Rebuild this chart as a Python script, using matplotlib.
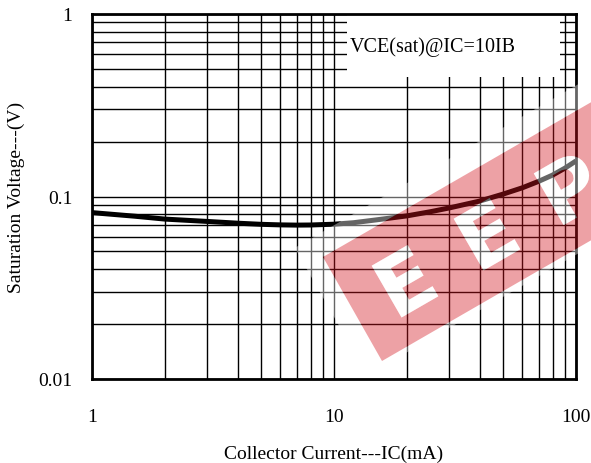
import numpy as np
import matplotlib
matplotlib.use("Agg")
import matplotlib.pyplot as plt
from matplotlib.ticker import FixedLocator, FixedFormatter, NullFormatter, LogLocator
from matplotlib.patches import PathPatch, Rectangle
from matplotlib.path import Path
from matplotlib.textpath import TextPath
from matplotlib.font_manager import FontProperties
from matplotlib.transforms import Affine2D, IdentityTransform

# ---- data ----
ic_ma = [1, 1.5, 2, 3, 4, 5, 6, 7, 8, 10, 12, 15, 20, 25, 30, 40, 50, 60, 70, 80, 90, 100]
vce_sat = [0.0816, 0.0780, 0.0752, 0.0730, 0.0714, 0.0704, 0.0699, 0.0697, 0.0698, 0.0705,
           0.0718, 0.0745, 0.0783, 0.0825, 0.0866, 0.0944, 0.1031, 0.1116, 0.1210, 0.1310,
           0.1430, 0.1566]
x_ticks = [1, 10, 100]
x_ticklabels = ["1", "10", "100"]
y_ticks = [0.01, 0.1, 1]
y_ticklabels = ["0.01", "0.1", "1"]
annotation = "VCE(sat)@IC=10IB"
x_label = "Collector Current---IC(mA)"
y_label = "Saturation Voltage---(V)"
watermark = "EEP"

plt.rcParams['font.family'] = ['Liberation Serif', 'DejaVu Serif']

W, H = 591, 464
fig = plt.figure(figsize=(W / 100, H / 100), dpi=100)
L, R, T, B = 92, 576, 15, 380
ax = fig.add_axes([L / W, 1 - B / H, (R - L) / W, (B - T) / H])
ax.set_xscale('log')
ax.set_yscale('log')
ax.set_xlim(1, 100)
ax.set_ylim(0.01, 1)

ax.plot(ic_ma, vce_sat, color='black', lw=3.6, solid_capstyle='butt', zorder=2)

ax.xaxis.set_major_locator(FixedLocator(x_ticks))
ax.xaxis.set_major_formatter(FixedFormatter(x_ticklabels))
ax.yaxis.set_major_locator(FixedLocator(y_ticks))
ax.yaxis.set_major_formatter(FixedFormatter(y_ticklabels))
ax.xaxis.set_minor_locator(LogLocator(base=10, subs=np.arange(2, 10)))
ax.yaxis.set_minor_locator(LogLocator(base=10, subs=np.arange(2, 10)))
ax.xaxis.set_minor_formatter(NullFormatter())
ax.yaxis.set_minor_formatter(NullFormatter())
ax.grid(which='both', color='black', lw=1.0)
ax.tick_params(which='both', length=0)
ax.tick_params(axis='x', pad=21, labelsize=14)
ax.tick_params(axis='y', pad=14, labelsize=14)
for s in ax.spines.values():
    s.set_linewidth(2)
    s.set_color('black')

ax.set_xlabel(x_label, fontsize=14, labelpad=14)
ax.set_ylabel(y_label, fontsize=14, labelpad=10)

# annotation box
ax.add_patch(Rectangle(((347 - L) / (R - L), (B - 78) / (B - T)),
                       (560 - 347) / (R - L), (78 - T) / (B - T) - 0.004,
                       transform=ax.transAxes, facecolor='white', edgecolor='none', zorder=2.5))
ax.text((350 - L) / (R - L), (B - 47) / (B - T), annotation, transform=ax.transAxes,
        fontsize=14.5, ha='left', va='center', zorder=3)

# ---- watermark (pixel coords, image y-down) ----
def disp(pts):
    return [(x, H - y) for x, y in pts]

ang = np.deg2rad(30)
u = np.array([np.cos(ang), -np.sin(ang)])
A = np.array([323.0, 258.0])
Bc = np.array([382.0, 362.0])
n = (A - Bc) / np.linalg.norm(A - Bc)
Lb = 330
band = [A, Bc, Bc + Lb * u, A + Lb * u]

# halo
hA = A + 22 * n - 20 * u
hB = Bc - 5 * n - 20 * u
halo = [hA, hB, hB + (Lb + 40) * u, hA + (Lb + 40) * u]
halo_d = disp(halo)
band_d = disp(band)

def ccw(pts):
    pts = np.array(pts)
    area = 0.5 * np.sum(pts[:, 0] * np.roll(pts[:, 1], -1) - np.roll(pts[:, 0], -1) * pts[:, 1])
    return pts if area > 0 else pts[::-1]

halo_path = Path.make_compound_path(
    Path(np.vstack([ccw(halo_d), ccw(halo_d)[:1]]), closed=True),
    Path(np.vstack([ccw(band_d)[::-1], ccw(band_d)[::-1][:1]]), closed=True))
fig.patches.append(PathPatch(halo_path, facecolor='white', edgecolor='none', alpha=0.4,
                             transform=IdentityTransform(), zorder=5, figure=fig))

# letters
fp = FontProperties(family='DejaVu Sans', weight='bold')
centers = [(405, 282), (487, 235), (570, 188)]
letter_paths = []
for ch, (cx, cy) in zip(watermark, centers):
    tp = TextPath((0, 0), ch, size=1, prop=fp)
    ext = tp.get_extents()
    tr = (Affine2D().translate(-(ext.x0 + ext.x1) / 2, -(ext.y0 + ext.y1) / 2)
          .scale(82).rotate_deg(30).translate(cx, H - cy))
    letter_paths.append(tr.transform_path(tp))

bd = ccw(band_d)
band_path = Path(np.vstack([bd, bd[:1]]), closed=True)
red_path = Path.make_compound_path(band_path, *letter_paths)
fig.patches.append(PathPatch(red_path, facecolor='#d4141e', edgecolor='none', alpha=0.4,
                             transform=IdentityTransform(), zorder=6, figure=fig))
for lp in letter_paths:
    fig.patches.append(PathPatch(lp, facecolor='white', edgecolor='none', alpha=0.4,
                                 transform=IdentityTransform(), zorder=7, figure=fig))

fig.savefig('out.png', dpi=100)
